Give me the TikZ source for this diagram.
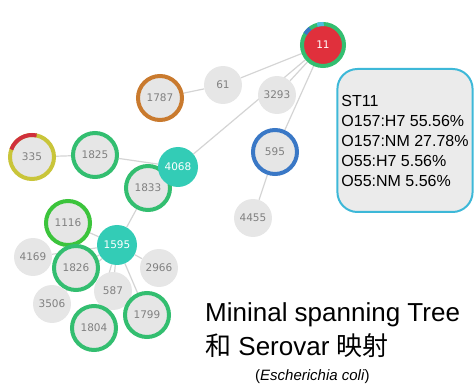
\documentclass[tikz,border=0pt]{standalone}
\usepackage{fontspec}
\setmainfont{Liberation Sans}
\newfontfamily\cjk{Noto Sans CJK SC}
\newfontfamily\dvs{DejaVu Sans}
\usetikzlibrary{backgrounds}
\definecolor{nodegrey}{HTML}{E6E6E6}
\definecolor{txtgrey}{HTML}{808080}
\definecolor{edgegrey}{HTML}{D4D4D4}
\definecolor{ringgreen}{HTML}{33BE70}
\definecolor{limegreen}{HTML}{3CC43C}
\definecolor{ringorange}{HTML}{C97A2E}
\definecolor{ringyellow}{HTML}{C9C53A}
\definecolor{ringred}{HTML}{D0303C}
\definecolor{ringblue}{HTML}{3A78C6}
\definecolor{tealfill}{HTML}{33CCB6}
\definecolor{redfill}{HTML}{E0303C}
\definecolor{boxcyan}{HTML}{3DB8D8}
\definecolor{boxfill}{HTML}{EBEBEB}
\definecolor{segcyan}{HTML}{4CC0E0}
\tikzset{
  plain/.style={circle, fill=nodegrey, minimum size=38pt, inner sep=0pt, text=txtgrey, font=\dvs\fontsize{10.5}{12}\selectfont},
  ringed/.style={plain, draw=#1, line width=4pt, minimum size=44pt},
  teal/.style={circle, fill=tealfill, minimum size=40pt, inner sep=0pt, text=white, font=\dvs\fontsize{10.5}{12}\selectfont},
  edge/.style={draw=edgegrey, line width=1.2pt},
  seg/.style={line width=4pt}
}
\begin{document}
\begin{tikzpicture}[x=1pt,y=-1pt]
\useasboundingbox (0,0) rectangle (475,385);
% nodes
\node[ringed=ringgreen, fill=redfill, text=white, minimum size=42pt] (n11) at (323,45) {11};
\node[plain] (n61) at (223,85) {61};
\node[plain] (n3293) at (277,95) {3293};
\node[ringed=ringorange] (n1787) at (160,98) {1787};
\node[ringed=ringblue] (n595) at (275,152) {595};
\node[plain] (n4455) at (253,218) {4455};
\node[ringed=ringyellow] (n335) at (32,157) {335};
\node[ringed=ringgreen] (n1825) at (95,155) {1825};
\node[ringed=ringgreen] (n1833) at (148,188) {1833};
\node[teal] (n4068) at (178,167) {4068};
\node[ringed=limegreen] (n1116) at (68,223) {1116};
\node[plain] (n4169) at (33,257) {4169};
\node[ringed=ringgreen] (n1826) at (76,268) {1826};
\node[plain] (n2966) at (159,268) {2966};
\node[plain] (n587) at (113,291) {587};
\node[plain] (n3506) at (52,304) {3506};
\node[ringed=ringgreen] (n1799) at (147,315) {1799};
\node[ringed=ringgreen] (n1804) at (94,328) {1804};
\node[teal] (n1595) at (117,245) {1595};
% ring segments (y axis points down: visual angle a is written as -a)
\draw[seg, ringblue] ([shift={(-128:21)}]n11.center) arc[start angle=-128, end angle=-148, radius=21];
\draw[seg, segcyan] ([shift={(-88:21)}]n11.center) arc[start angle=-88, end angle=-106, radius=21];
\draw[seg, ringred] ([shift={(-78:22)}]n335.center) arc[start angle=-78, end angle=-160, radius=22];
% edges
\begin{scope}[on background layer]
\path[edge] (n11) -- (n61);
\path[edge] (n11) -- (n3293);
\path[edge] (n11) -- (n4068);
\path[edge] (n11) -- (n595);
\path[edge] (n61) -- (n1787);
\path[edge] (n595) -- (n4455);
\path[edge] (n4068) -- (n1825);
\path[edge] (n1825) -- (n335);
\path[edge] (n4068) -- (n1833);
\path[edge] (n1833) -- (n1595);
\path[edge] (n1595) -- (n1116);
\path[edge] (n1595) -- (n1826);
\path[edge] (n1595) -- (n4169);
\path[edge] (n1595) -- (n3506);
\path[edge] (n1595) -- (n2966);
\path[edge] (n1595) -- (n587);
\path[edge] (n1595) -- (n1804);
\path[edge] (n1595) -- (n1799);
\end{scope}
% info box
\node[draw=boxcyan, fill=boxfill, line width=2pt, rounded corners=20pt, align=left,
      minimum height=143pt, inner xsep=4pt, font=\fontsize{16}{20}\selectfont] (info) at (405,140.5)
  {ST11\\O157:H7 55.56\%\\O157:NM 27.78\%\\O55:H7 5.56\%\\O55:NM 5.56\%};
% title
\node[anchor=base west, inner sep=0pt, font=\fontsize{26}{30}\selectfont] (t1) at (205,322) {Mininal spanning Tree};
\node[anchor=base west, inner sep=0pt, font=\fontsize{26}{30}\selectfont] (t2) at (205,356) {{\cjk 和} Serovar {\cjk 映射}};
\node[anchor=base west, inner sep=0pt, font=\fontsize{15}{18}\selectfont] (t3) at (255,381) {(\textit{Escherichia coli})};
\end{tikzpicture}
\end{document}
